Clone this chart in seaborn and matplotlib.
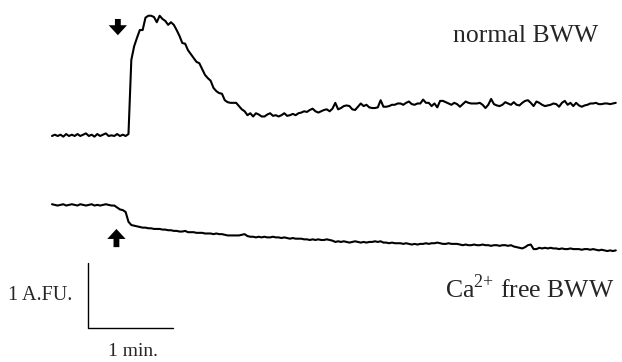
import numpy as np
import pandas as pd
import matplotlib
matplotlib.use('Agg')
import matplotlib.pyplot as plt
import seaborn as sns

# one fluorescence reading every 2 s
time_s = np.arange(0, 400, 2)

# fluorescence (A.FU.) relative to the resting level, normal BWW
normal_bww = [
    0.00, 0.02, 0.00, 0.02, -0.01, 0.03, 0.00, 0.02, 0.00, 0.03,
    0.00, 0.02, 0.04, 0.00, 0.02, -0.01, 0.03, 0.00, 0.02, 0.04,
    0.00, 0.01, 0.00, 0.03, 0.00, 0.02, 0.00, 0.03,
    1.17, 1.38, 1.51, 1.63, 1.63, 1.82, 1.85, 1.85, 1.83, 1.75,
    1.85, 1.80, 1.77, 1.71, 1.75, 1.71, 1.63, 1.54, 1.43, 1.42,
    1.32, 1.26, 1.20, 1.14, 1.12, 1.03, 0.94, 0.89, 0.85, 0.74,
    0.69, 0.66, 0.65, 0.55, 0.52, 0.51, 0.51, 0.51, 0.46, 0.41,
    0.38, 0.32,
    0.35, 0.30, 0.35, 0.33, 0.30, 0.30, 0.33, 0.35, 0.31, 0.32,
    0.30, 0.32, 0.35, 0.31, 0.32, 0.34, 0.32, 0.35, 0.36, 0.38,
    0.37, 0.40, 0.42, 0.38, 0.36, 0.38, 0.40, 0.41, 0.38, 0.42,
    0.51, 0.41, 0.43, 0.46, 0.47, 0.46, 0.41, 0.40, 0.45, 0.50,
    0.46, 0.48, 0.44, 0.43, 0.43, 0.44, 0.55, 0.45, 0.45, 0.46,
    0.48, 0.48, 0.50, 0.50, 0.48, 0.51, 0.53, 0.49, 0.48, 0.50,
    0.50, 0.56, 0.51, 0.51, 0.46, 0.50, 0.44, 0.54, 0.54, 0.52,
    0.50, 0.48, 0.51, 0.49, 0.45, 0.49, 0.53, 0.51, 0.50, 0.50,
    0.50, 0.51, 0.48, 0.43, 0.48, 0.57, 0.49, 0.47, 0.46, 0.48,
    0.52, 0.50, 0.48, 0.52, 0.48, 0.47, 0.51, 0.54, 0.55, 0.51,
    0.46, 0.53, 0.51, 0.48, 0.46, 0.47, 0.48, 0.50, 0.49, 0.45,
    0.51, 0.54, 0.48, 0.51, 0.46, 0.51, 0.47, 0.45, 0.47, 0.48,
    0.50, 0.50, 0.51, 0.49, 0.49, 0.50, 0.50, 0.49, 0.50, 0.51,
]

# fluorescence (A.FU.) relative to the resting level, Ca2+ free BWW
ca_free_bww = [
    0.01, 0.00, -0.01, 0.00, 0.01, -0.01, 0.00, 0.01, 0.00, -0.01,
    0.01, 0.00, -0.01, 0.00, 0.01, -0.01, 0.00, -0.01, 0.00, 0.01,
    0.00, -0.01, -0.01,
    -0.04, -0.07, -0.08, -0.11,
    -0.26, -0.31, -0.32, -0.33, -0.34, -0.35, -0.35, -0.36, -0.36, -0.37,
    -0.37, -0.37, -0.38, -0.38, -0.39, -0.39, -0.40, -0.40, -0.41, -0.41,
    -0.40, -0.42, -0.42, -0.42, -0.43, -0.43, -0.43, -0.44, -0.44, -0.44,
    -0.45, -0.44, -0.45, -0.45, -0.46, -0.47, -0.47, -0.47, -0.47, -0.47,
    -0.46, -0.45, -0.48, -0.49,
    -0.49, -0.50, -0.49, -0.50, -0.49, -0.50, -0.50, -0.49, -0.50,
    -0.50, -0.51, -0.50, -0.51, -0.52, -0.51, -0.52, -0.52, -0.52, -0.53,
    -0.53, -0.54, -0.53, -0.54, -0.53, -0.54, -0.54, -0.53, -0.54, -0.55,
    -0.57, -0.56, -0.57, -0.56, -0.57, -0.58, -0.57, -0.56, -0.57, -0.58,
    -0.57, -0.58, -0.57, -0.57, -0.56, -0.57, -0.56, -0.58, -0.58, -0.59,
    -0.58, -0.59, -0.59, -0.59, -0.60, -0.59, -0.60, -0.61, -0.60, -0.61,
    -0.60, -0.60, -0.59, -0.60, -0.59, -0.59, -0.58, -0.59, -0.60, -0.60,
    -0.59, -0.60, -0.60, -0.60, -0.61, -0.62, -0.61, -0.62, -0.62, -0.61,
    -0.62, -0.62, -0.61, -0.62, -0.62, -0.63, -0.62, -0.62, -0.63, -0.62,
    -0.62, -0.63, -0.62, -0.64, -0.65, -0.66, -0.67, -0.65, -0.62, -0.61,
    -0.68, -0.68, -0.66, -0.67, -0.66, -0.67, -0.66, -0.67, -0.67, -0.68,
    -0.67, -0.68, -0.68, -0.67, -0.68, -0.68, -0.68, -0.69, -0.68, -0.68,
    -0.69, -0.68, -0.69, -0.70, -0.69, -0.70, -0.71, -0.70, -0.71, -0.70,
]

# time the solution was added (s)
stim_time = 46.5

# vertical gap between the two recordings on the page (A.FU.)
offsets = {'normal': 0.0, 'ca_free': -1.06}

df = pd.concat([
    pd.DataFrame({'time': time_s, 'F': normal_bww, 'trace': 'normal'}),
    pd.DataFrame({'time': time_s, 'F': ca_free_bww, 'trace': 'ca_free'}),
], ignore_index=True)
df['shown'] = df['F'] + df['trace'].map(offsets)

sns.set_style('white')
plt.rcParams['font.family'] = ['Liberation Serif', 'DejaVu Serif']
plt.rcParams['mathtext.fontset'] = 'custom'
plt.rcParams['mathtext.rm'] = 'Liberation Serif'

fig = plt.figure(figsize=(6.22, 3.62), dpi=100)
ax = fig.add_axes([0, 0, 1, 1])

sns.lineplot(data=df, x='time', y='shown', units='trace', estimator=None,
             color='black', linewidth=1.5, sort=False, ax=ax)

ax.set_xlim(-36.7, 402.4)
ax.set_ylim(-3.477, 2.092)
ax.axis('off')

# arrows marking the solution change
arrow = dict(arrowstyle='simple,head_length=0.6,head_width=1.1,tail_width=0.35',
             fc='black', ec='none', shrinkA=0, shrinkB=0, mutation_scale=12)
ax.annotate('', xy=(stim_time, 1.55), xytext=(stim_time, 1.80), arrowprops=arrow)
ax.annotate('', xy=(stim_time - 1, -1.43), xytext=(stim_time - 1, -1.71), arrowprops=arrow)

# scale bar: 1 A.FU. x 1 min
bar_x, bar_y = 25.4, -2.954
ax.plot([bar_x, bar_x, bar_x + 60], [bar_y + 1, bar_y, bar_y], color='black', lw=1.0)
ax.text(-31.0, -2.52, '1 A.FU.', fontsize=14.5, ha='left', va='baseline')
ax.text(57.5, -3.38, '1 min.', fontsize=14, ha='center', va='baseline')

ax.text(334.2, 1.45, 'normal BWW', fontsize=18.5, ha='center', va='baseline')
ax.text(337.2, -2.49, r'Ca$^{\mathrm{2{+}}}$ free BWW', fontsize=18.5,
        ha='center', va='baseline')

fig.savefig('out.png', dpi=100)
